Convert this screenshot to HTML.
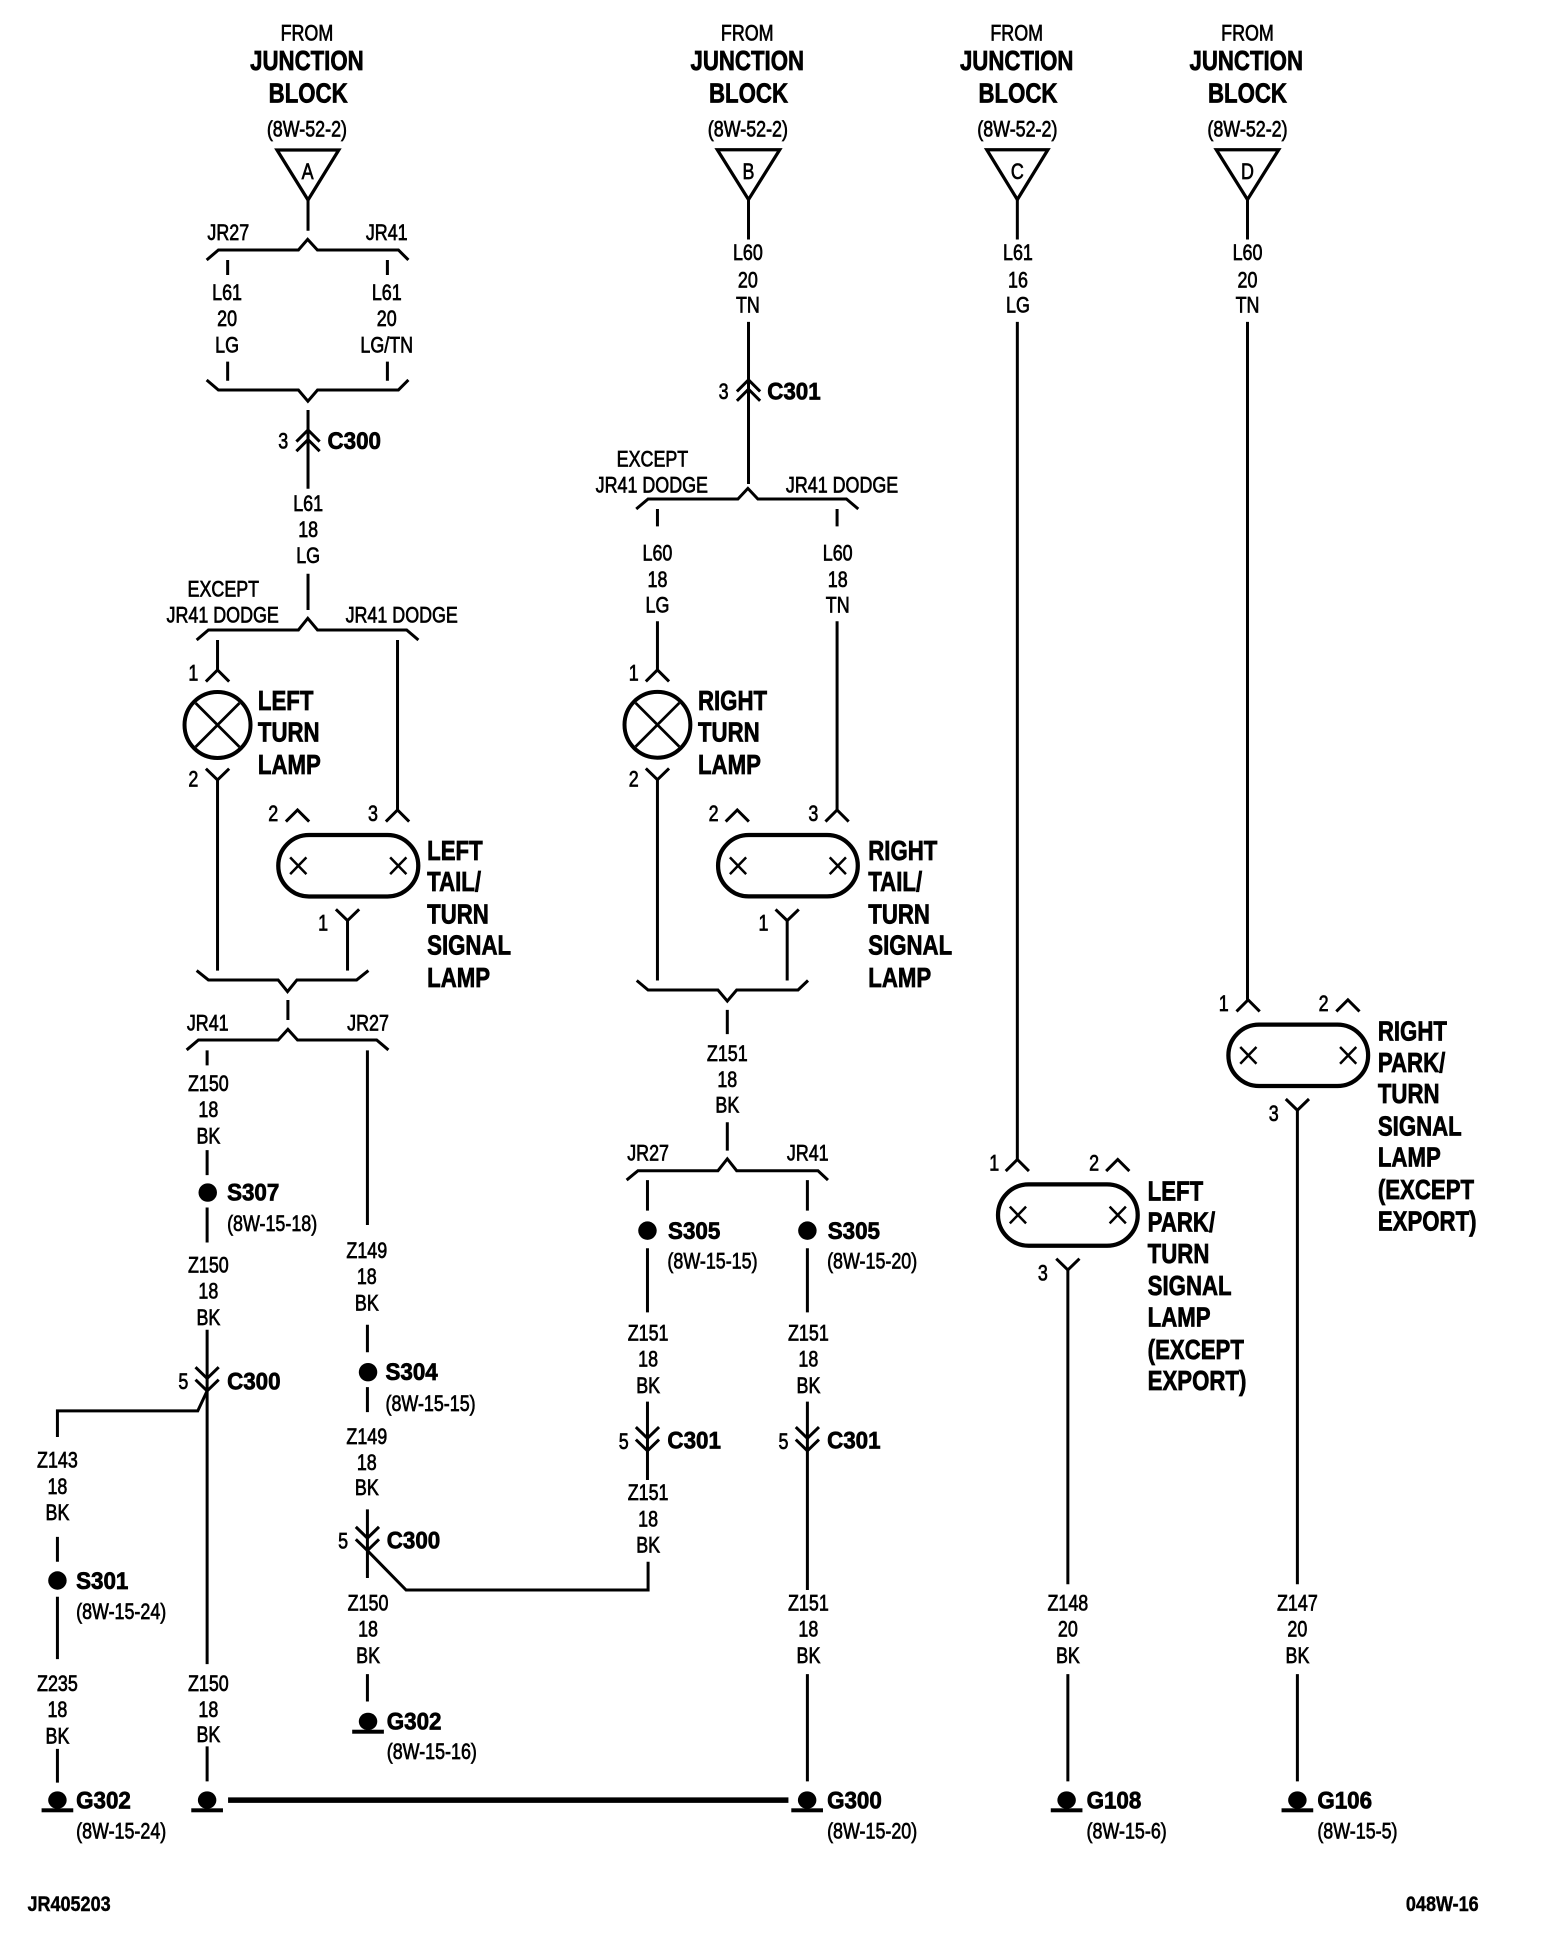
<!DOCTYPE html>
<html><head><meta charset="utf-8"><style>
html,body{margin:0;padding:0;background:#fff}
svg{display:block}
text{font-family:"Liberation Sans",sans-serif;fill:#000;stroke:#000;transform-box:fill-box;transform-origin:left center}
.c{text-anchor:middle;transform-origin:center}
.s{font-size:17.6px;stroke-width:.55;transform:scaleX(.815)}
.b{font-size:22.4px;font-weight:bold;stroke-width:.6;transform:translateY(-.7px) scaleX(.795)}
.m{font-size:19.5px;font-weight:bold;stroke-width:.6;transform:translateY(-.7px) scaleX(.92)}
.f{font-size:16.8px;font-weight:bold;stroke-width:.35;transform:scaleX(.86)}
</style></head><body>
<svg xmlns="http://www.w3.org/2000/svg" width="1568" height="1956" viewBox="0 0 1256.9 1568">
<defs>
<path id="up" d="M-9.3,9.3L0,0L9.3,9.3"/>
<path id="dn" d="M-9.3,-9L0,0L9.3,-9"/>
<g id="ob"><rect x="-56" y="-24.6" width="112" height="49.2" rx="24.6" stroke-width="3.4"/><path d="M-46.5,-6.7L-33.5,6.7M-46.5,6.7L-33.5,-6.7M33.5,-6.7L46.5,6.7M33.5,6.7L46.5,-6.7" stroke-width="2"/></g>
<g id="gnd"><ellipse cx="0" cy="0" rx="7.4" ry="7" fill="#000" stroke="none"/><rect x="-12.7" y="6.6" width="25.4" height="3.2" fill="#000" stroke="none"/></g>
<circle id="dot" r="7.4" fill="#000" stroke="none"/>
<g id="lamp"><circle r="26.4" stroke-width="3.2"/><path d="M-17.5,-17.5L17.5,17.5M-17.5,17.5L17.5,-17.5" stroke-width="2.2"/></g>
</defs>
<g fill="none" stroke="#000" stroke-width="2.4">
<!-- triangles -->
<path stroke-width="2.6" d="M575,120H625L600,160ZM791,120H840L815.5,160ZM975,120H1025L1000,160Z"/>
<!-- column A -->
<g transform="scale(1.002)">
<path stroke-width="2.6" d="M221.6,120H271L246.4,160Z"/>
<path d="M246.4,160V184.6M165.3,208L174.7,200H238.7L246.1,191.5L253.9,200H318.7L326.7,208"/>
<path d="M182.1,208V220M309.9,208V220M182.1,289.3V304.6M309.9,289.3V304.6"/>
<path d="M165.3,304L174.7,312H238.7L246.3,321L254,312H318.7L326.7,304"/>
<path d="M246.4,328V391"/><use href="#up" x="246.4" y="344"/><use href="#up" x="246.4" y="351.7"/>
<path d="M246.4,459V488M157.3,512L166.7,504H238.7L246.2,494.7L254,504H325.3L334.7,512"/>
<path d="M174,512V536M318,512V648"/>
<use href="#up" x="174" y="536"/><use href="#lamp" x="174" y="580"/><use href="#dn" x="174" y="624"/>
<path d="M174,624V776.5"/>
<use href="#up" x="238" y="648"/><use href="#up" x="318" y="648"/>
<use href="#ob" x="278.6" y="692.6"/>
<use href="#dn" x="278" y="736.5"/><path d="M278,736.5V776.5"/>
<path d="M157.3,776.5L166.7,784H222.5L230,793.3L237.5,784H285.3L294.7,776.5"/>
<path d="M230.3,800V816M149.3,840L158.7,832H222.5L230.3,823.5L238,832H301.3L310.7,840"/>
</g>
<!-- Z150 left -->
<path d="M166,842V854M166,922V942M166,968V996M166,1066V1334M166,1400V1428"/>
<use href="#dot" x="166.5" y="956"/>
<use href="#dn" x="166" y="1105"/><use href="#dn" x="166" y="1115"/>
<path d="M166,1115L158.5,1131H46V1152M46,1232V1252M46,1280V1330M46,1402V1429"/>
<use href="#dot" x="46" y="1267"/>
<use href="#gnd" x="46" y="1443"/><use href="#gnd" x="166" y="1443"/>
<path d="M182.8,1443H632" stroke-width="4.4"/>
<!-- Z149 -->
<path d="M294.5,842V982M294.5,1062V1084M294.5,1112V1132M294.5,1210V1265M294.5,1243L325.5,1274.6H519.5V1252M294.5,1342V1364"/>
<use href="#dot" x="295" y="1100"/>
<use href="#dn" x="294.5" y="1233"/><use href="#dn" x="294.5" y="1243"/>
<use href="#gnd" x="295" y="1380"/>
<!-- column B -->
<path d="M600,160V192M600,258V388"/>
<use href="#up" x="600" y="304.5"/><use href="#up" x="600" y="312"/>
<path d="M510,408L519.5,400H591.5L599.5,391.5L607.5,400H678.5L688,408"/>
<path d="M527,408V422M671,408V422M527,498V537M671,498V649.3"/>
<use href="#up" x="527" y="537"/><use href="#lamp" x="527" y="581"/><use href="#dn" x="527" y="625"/>
<path d="M527,625V786"/>
<use href="#up" x="591" y="649.3"/><use href="#up" x="671" y="649.3"/>
<use href="#ob" x="631.6" y="694"/>
<use href="#dn" x="631" y="738"/><path d="M631,738V786"/>
<path d="M510.4,786L519.5,793.6H575.5L583,802.5L590.5,793.6H639.7L647.7,786"/>
<path d="M583,809.6V829M583,899.6V922.4M502.3,946L511.4,938.5H575.5L583,929L590.5,938.5H655.7L663.7,946"/>
<path d="M519,946V970.5M519,1000.6V1052M519,1123.6V1186.4"/>
<use href="#dot" x="519" y="986.5"/>
<use href="#dn" x="519" y="1153"/><use href="#dn" x="519" y="1163"/>
<path d="M647.2,946V970.5M647.2,1000.6V1052M647.2,1123.6V1274.6M647.2,1342V1428"/>
<use href="#dot" x="647.2" y="986.5"/>
<use href="#dn" x="647.2" y="1153"/><use href="#dn" x="647.2" y="1163"/>
<use href="#gnd" x="647" y="1443"/>
<!-- column C -->
<path d="M815.5,160V192M815.5,258V929.5"/>
<use href="#up" x="815.5" y="929.5"/><use href="#up" x="896" y="929.5"/>
<use href="#ob" x="856" y="974"/>
<use href="#dn" x="856" y="1018"/><path d="M856,1018V1270M856,1342V1428"/>
<use href="#gnd" x="855" y="1443"/>
<!-- column D -->
<path d="M1000,160V192M1000,258V801.5"/>
<use href="#up" x="1000.5" y="801.5"/><use href="#up" x="1080.5" y="801.5"/>
<use href="#ob" x="1040.7" y="846"/>
<use href="#dn" x="1040" y="890"/><path d="M1040,890V1270M1040,1342V1428"/>
<use href="#gnd" x="1040" y="1443"/>
</g>

<!-- headers -->
<text class="s c" x="246" y="32.5">FROM</text><text class="b c" x="246" y="57">JUNCTION</text><text class="b c" x="247" y="83">BLOCK</text><text class="s c" x="246" y="109.5">(8W-52-2)</text><text class="s c" x="246.5" y="143.5">A</text>
<text class="s c" x="599" y="32.5">FROM</text><text class="b c" x="599" y="57">JUNCTION</text><text class="b c" x="600" y="83">BLOCK</text><text class="s c" x="599.5" y="109.5">(8W-52-2)</text><text class="s c" x="600" y="143.5">B</text>
<text class="s c" x="815" y="32.5">FROM</text><text class="b c" x="815" y="57">JUNCTION</text><text class="b c" x="816" y="83">BLOCK</text><text class="s c" x="815.5" y="109.5">(8W-52-2)</text><text class="s c" x="815.5" y="143.5">C</text>
<text class="s c" x="1000" y="32.5">FROM</text><text class="b c" x="999" y="57">JUNCTION</text><text class="b c" x="1000" y="83">BLOCK</text><text class="s c" x="1000" y="109.5">(8W-52-2)</text><text class="s c" x="1000" y="143.5">D</text>

<!-- column A text -->
<text class="s c" x="183" y="192.5">JR27</text><text class="s c" x="310" y="192.5">JR41</text>
<text class="s c" x="182" y="240.5">L61</text><text class="s c" x="182" y="261.5">20</text><text class="s c" x="182" y="282.5">LG</text>
<text class="s c" x="310" y="240.5">L61</text><text class="s c" x="310" y="261.5">20</text><text class="s c" x="310" y="282.5">LG/TN</text>
<text class="s c" x="227" y="359.5">3</text><text class="m" x="262.5" y="360.5">C300</text>
<text class="s c" x="247" y="409.5">L61</text><text class="s c" x="247" y="430.5">18</text><text class="s c" x="247" y="451.5">LG</text>
<text class="s c" x="179" y="478">EXCEPT</text><text class="s c" x="178.5" y="499">JR41 DODGE</text><text class="s c" x="322" y="499">JR41 DODGE</text>
<text class="s c" x="155" y="545.5">1</text><text class="s c" x="155" y="630.5">2</text>
<text class="b" x="206.7" y="570">LEFT</text><text class="b" x="206.7" y="595">TURN</text><text class="b" x="206.7" y="621">LAMP</text>
<text class="s c" x="219" y="658">2</text><text class="s c" x="299" y="658">3</text><text class="s c" x="259" y="746">1</text>
<text class="b" x="342.4" y="690">LEFT</text><text class="b" x="342.4" y="715">TAIL/</text><text class="b" x="342.4" y="741">TURN</text><text class="b" x="342.4" y="766">SIGNAL</text><text class="b" x="342.4" y="792">LAMP</text>
<text class="s c" x="166.5" y="826">JR41</text><text class="s c" x="295" y="826">JR27</text>
<text class="s c" x="167" y="874.5">Z150</text><text class="s c" x="167" y="895.5">18</text><text class="s c" x="167" y="916.5">BK</text>
<text class="m" x="182" y="963">S307</text><text class="s" x="182" y="987">(8W-15-18)</text>
<text class="s c" x="167" y="1020">Z150</text><text class="s c" x="167" y="1041">18</text><text class="s c" x="167" y="1062">BK</text>
<text class="s c" x="147" y="1113.5">5</text><text class="m" x="182" y="1114.5">C300</text>
<text class="s c" x="46" y="1176.5">Z143</text><text class="s c" x="46" y="1197.5">18</text><text class="s c" x="46" y="1218.5">BK</text>
<text class="m" x="61" y="1274.5">S301</text><text class="s" x="61" y="1298">(8W-15-24)</text>
<text class="s c" x="46" y="1355.5">Z235</text><text class="s c" x="46" y="1376.5">18</text><text class="s c" x="46" y="1397.5">BK</text>
<text class="m" x="61" y="1450.5">G302</text><text class="s" x="61" y="1474">(8W-15-24)</text>
<text class="s c" x="167" y="1355.5">Z150</text><text class="s c" x="167" y="1376.5">18</text><text class="s c" x="167" y="1396.5">BK</text>

<!-- Z149 text -->
<text class="s c" x="294" y="1008.5">Z149</text><text class="s c" x="294" y="1029.5">18</text><text class="s c" x="294" y="1050.5">BK</text>
<text class="m" x="309" y="1107">S304</text><text class="s" x="309" y="1131">(8W-15-15)</text>
<text class="s c" x="294" y="1157.5">Z149</text><text class="s c" x="294" y="1178.5">18</text><text class="s c" x="294" y="1198.5">BK</text>
<text class="s c" x="275" y="1241.5">5</text><text class="m" x="310" y="1242">C300</text>
<text class="s c" x="295" y="1291">Z150</text><text class="s c" x="295" y="1312">18</text><text class="s c" x="295" y="1333">BK</text>
<text class="m" x="310" y="1387">G302</text><text class="s" x="310" y="1410">(8W-15-16)</text>

<!-- column B text -->
<text class="s c" x="599.5" y="208.5">L60</text><text class="s c" x="599.5" y="230.5">20</text><text class="s c" x="599.5" y="250.5">TN</text>
<text class="s c" x="580" y="320">3</text><text class="m" x="615" y="321">C301</text>
<text class="s c" x="523" y="374">EXCEPT</text><text class="s c" x="522.5" y="395">JR41 DODGE</text><text class="s c" x="675" y="395">JR41 DODGE</text>
<text class="s c" x="527" y="449.5">L60</text><text class="s c" x="527" y="470.5">18</text><text class="s c" x="527" y="491">LG</text>
<text class="s c" x="671.5" y="449.5">L60</text><text class="s c" x="671.5" y="470.5">18</text><text class="s c" x="671.5" y="491">TN</text>
<text class="s c" x="508" y="545.5">1</text><text class="s c" x="508" y="630.5">2</text>
<text class="b" x="559.5" y="570">RIGHT</text><text class="b" x="559.5" y="595">TURN</text><text class="b" x="559.5" y="621">LAMP</text>
<text class="s c" x="572" y="658">2</text><text class="s c" x="652" y="658">3</text><text class="s c" x="612" y="746">1</text>
<text class="b" x="696" y="690">RIGHT</text><text class="b" x="696" y="715">TAIL/</text><text class="b" x="696" y="741">TURN</text><text class="b" x="696" y="766">SIGNAL</text><text class="b" x="696" y="792">LAMP</text>
<text class="s c" x="583" y="850.5">Z151</text><text class="s c" x="583" y="871.5">18</text><text class="s c" x="583" y="892">BK</text>
<text class="s c" x="519.5" y="930.5">JR27</text><text class="s c" x="647.5" y="930.5">JR41</text>
<text class="m" x="535.5" y="994">S305</text><text class="s" x="535" y="1017">(8W-15-15)</text>
<text class="m" x="663.5" y="994">S305</text><text class="s" x="663" y="1017">(8W-15-20)</text>
<text class="s c" x="519.5" y="1074.5">Z151</text><text class="s c" x="519.5" y="1095.5">18</text><text class="s c" x="519.5" y="1116.5">BK</text>
<text class="s c" x="648" y="1074.5">Z151</text><text class="s c" x="648" y="1095.5">18</text><text class="s c" x="648" y="1116.5">BK</text>
<text class="s c" x="500" y="1161.5">5</text><text class="m" x="535" y="1162">C301</text>
<text class="s c" x="628" y="1161.5">5</text><text class="m" x="663" y="1162">C301</text>
<text class="s c" x="519.5" y="1202.5">Z151</text><text class="s c" x="519.5" y="1223.5">18</text><text class="s c" x="519.5" y="1244.5">BK</text>
<text class="s c" x="648" y="1291">Z151</text><text class="s c" x="648" y="1312">18</text><text class="s c" x="648" y="1333">BK</text>
<text class="m" x="663" y="1450.5">G300</text><text class="s" x="663" y="1474">(8W-15-20)</text>

<!-- column C text -->
<text class="s c" x="816" y="208.5">L61</text><text class="s c" x="816" y="230.5">16</text><text class="s c" x="816" y="250.5">LG</text>
<text class="s c" x="797" y="938.5">1</text><text class="s c" x="877" y="938.5">2</text><text class="s c" x="836" y="1026.5">3</text>
<text class="b" x="920" y="963">LEFT</text><text class="b" x="920" y="988">PARK/</text><text class="b" x="920" y="1013">TURN</text><text class="b" x="920" y="1039">SIGNAL</text><text class="b" x="920" y="1064">LAMP</text><text class="b" x="920" y="1090">(EXCEPT</text><text class="b" x="920" y="1115">EXPORT)</text>
<text class="s c" x="856" y="1291">Z148</text><text class="s c" x="856" y="1312">20</text><text class="s c" x="856" y="1333">BK</text>
<text class="m" x="871" y="1450.5">G108</text><text class="s" x="871" y="1474">(8W-15-6)</text>

<!-- column D text -->
<text class="s c" x="1000" y="208.5">L60</text><text class="s c" x="1000" y="230.5">20</text><text class="s c" x="1000" y="250.5">TN</text>
<text class="s c" x="981" y="810.5">1</text><text class="s c" x="1061" y="810.5">2</text><text class="s c" x="1021" y="898.5">3</text>
<text class="b" x="1104.5" y="835">RIGHT</text><text class="b" x="1104.5" y="860">PARK/</text><text class="b" x="1104.5" y="885">TURN</text><text class="b" x="1104.5" y="911">SIGNAL</text><text class="b" x="1104.5" y="936">LAMP</text><text class="b" x="1104.5" y="962">(EXCEPT</text><text class="b" x="1104.5" y="987">EXPORT)</text>
<text class="s c" x="1040" y="1291">Z147</text><text class="s c" x="1040" y="1312">20</text><text class="s c" x="1040" y="1333">BK</text>
<text class="m" x="1056" y="1450.5">G106</text><text class="s" x="1056" y="1474">(8W-15-5)</text>

<text class="f" x="22" y="1532">JR405203</text><text class="f" x="1127" y="1532">048W-16</text>
</svg>
</body></html>
